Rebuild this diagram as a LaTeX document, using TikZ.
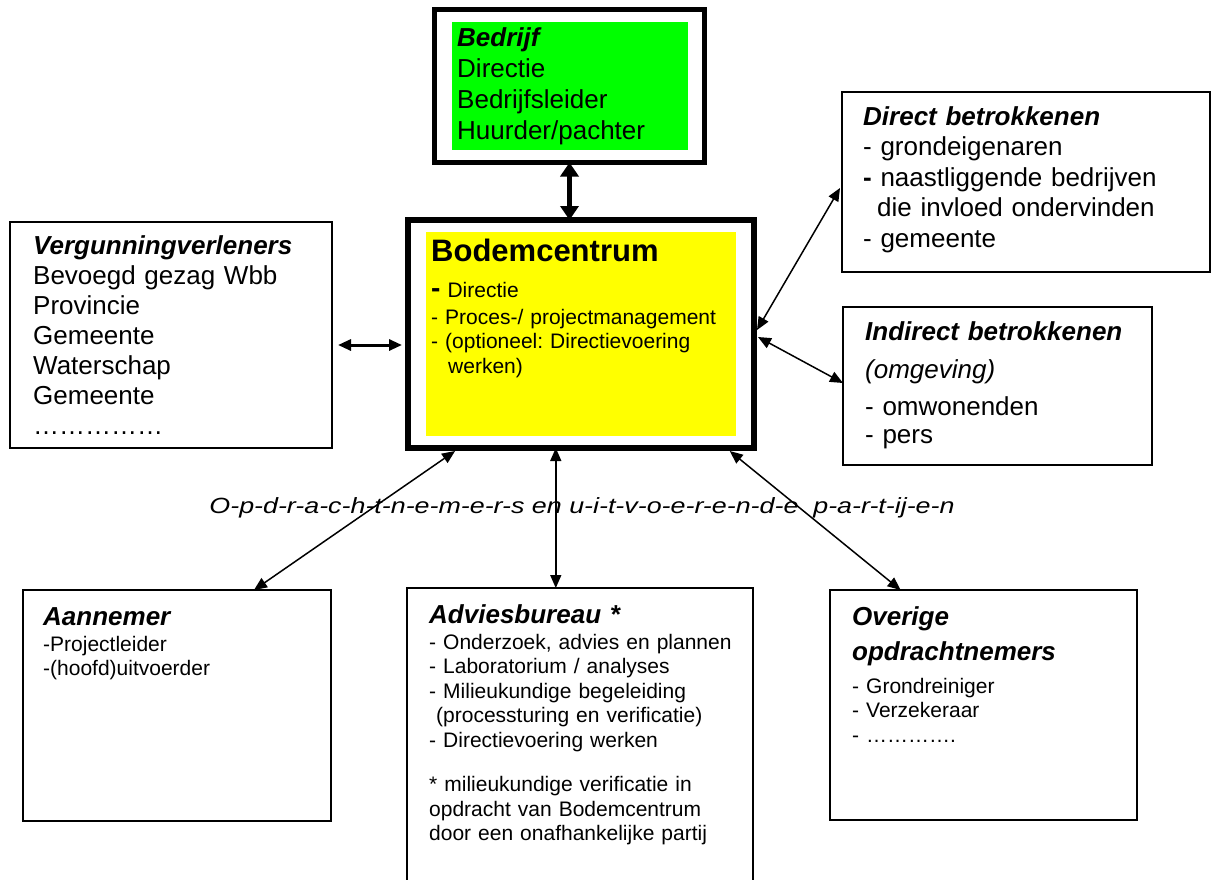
\documentclass[tikz,border=0pt]{standalone}
\usepackage{fontspec}
\setmainfont{Liberation Sans}
\usetikzlibrary{arrows.meta,calc}
\definecolor{BedrijfClr}{RGB}{0,255,0}
\definecolor{CentrumClr}{RGB}{255,255,0}
\frenchspacing

\newcommand{\kop}[1]{\textbf{\textit{#1}}}

\begin{document}
\begin{tikzpicture}[x=1pt,y=-1pt,
  kader/.style={draw,line width=1.6pt,inner sep=0pt,outer sep=0pt,anchor=north west},
  dikkader/.style={kader,line width=5.5pt},
  vlak/.style={inner sep=0pt,outer sep=0pt,anchor=north west},
  tekst/.style={anchor=base west,inner sep=0pt,text width=#1,align=left},
  groot/.style={font=\fontsize{26}{30.5}\selectfont},
  klein/.style={font=\fontsize{21}{24.5}\selectfont},
  pijl/.style={{Triangle[length=13pt,width=11pt]}-{Triangle[length=13pt,width=11pt]},line width=1.5pt},
  dikpijl/.style={{Triangle[length=14pt,width=18pt]}-{Triangle[length=14pt,width=18pt]},line width=4.5pt},
]
\useasboundingbox (0,0) rectangle (1212,879);

% centrale kaders
\node[dikkader,minimum width=270pt,minimum height=153pt] (bedrijf) at (434.5,9.5) {};
\node[vlak,fill=BedrijfClr,minimum width=236pt,minimum height=128pt] (groen) at (452,22) {};
\node[dikkader,line width=6pt,minimum width=346pt,minimum height=228pt] (bodem) at (408,220) {};
\node[vlak,fill=CentrumClr,minimum width=310pt,minimum height=204pt] (geel) at (426,232) {};

% omringende kaders
\node[kader,minimum width=322pt,minimum height=226pt] (verg) at (10,222) {};
\node[kader,minimum width=368pt,minimum height=180pt] (direct) at (842,92) {};
\node[kader,minimum width=309pt,minimum height=158pt] (indirect) at (843,307) {};
\node[kader,minimum width=308pt,minimum height=231pt] (aannemer) at (23,590) {};
\node[kader,minimum width=346pt,minimum height=320pt] (advies) at (407,588) {};
\node[kader,minimum width=307pt,minimum height=230pt] (overige) at (830,590) {};

% teksten
\node[tekst=240pt,font=\fontsize{26}{31}\selectfont] (tBedrijf) at (457,46)
  {\kop{Bedrijf}\\Directie\\Bedrijfsleider\\Huurder/pachter};
\node[tekst=300pt,font=\fontsize{31}{31}\bfseries\selectfont] (tBodem) at (431,261) {Bodemcentrum};
\node[tekst=300pt,klein] (tBodemLijst) at (431,297)
  {{\fontsize{28}{28}\bfseries\selectfont -}\hspace{7pt}Directie\\[2.5pt]
   - Proces-/ projectmanagement\\
   - (optioneel: Directievoering\\
   \hspace*{17pt}werken)};
\node[tekst=300pt,font=\fontsize{26}{30}\selectfont] (tVerg) at (33,254)
  {\kop{Vergunningverleners}\\Bevoegd gezag Wbb\\Provincie\\Gemeente\\Waterschap\\Gemeente\\……………};
\node[tekst=340pt,groot] (tDirect) at (863,125)
  {\kop{Direct betrokkenen}\\- grondeigenaren\\\textbf{-} naastliggende bedrijven\\
   \hspace*{14pt}die invloed ondervinden\\- gemeente};
\node[tekst=300pt,font=\fontsize{26}{28}\selectfont] (tIndirect) at (865,340)
  {\kop{Indirect betrokkenen}\\[10pt]\textit{(omgeving)}\\[9pt]- omwonenden\\- pers};
\node[tekst=280pt,groot] (tAannemer) at (43,625) {\kop{Aannemer}};
\node[tekst=280pt,klein] (tAannemerLijst) at (43,651) {-Projectleider\\-(hoofd)uitvoerder};
\node[tekst=320pt,groot] (tAdvies) at (429,623) {\kop{Adviesbureau *}};
\node[tekst=320pt,klein] (tAdviesLijst) at (429,649)
  {- Onderzoek, advies en plannen\\- Laboratorium / analyses\\- Milieukundige begeleiding\\
   \hspace*{7pt}(processturing en verificatie)\\- Directievoering werken\\[20pt]
   * milieukundige verificatie in\\opdracht van Bodemcentrum\\door een onafhankelijke partij};
\node[tekst=280pt,font=\fontsize{26}{35}\selectfont] (tOverige) at (852,625)
  {\kop{Overige}\\\kop{opdrachtnemers}};
\node[tekst=280pt,klein] (tOverigeLijst) at (852,693) {- Grondreiniger\\- Verzekeraar\\- ………….};
\node[anchor=base,inner sep=0pt,font=\fontsize{22}{24}\itshape\addfontfeature{FakeStretch=1.22}\selectfont] (partijen) at (582,513)
  {O-p-d-r-a-c-h-t-n-e-m-e-r-s en u-i-t-v-o-e-r-e-n-d-e\ \ p-a-r-t-ij-e-n};

% verbindingen
\coordinate (bAan) at ($(bodem.south west)!0.136!(bodem.south east)+(0,3)$);
\coordinate (bOv) at ($(bodem.south west)!0.93!(bodem.south east)+(0,3)$);
\coordinate (aTop) at ($(advies.north west)!0.43!(advies.north east)$);
\draw[dikpijl] (bedrijf.south) -- (bedrijf.south |- bodem.north);
\draw[pijl,line width=3pt] ($(verg.east)+(6,10)$) -- ($(bodem.west)+(-6,11)$);
\draw[pijl] ($(bodem.east)+(3,-4)$) -- ($(direct.west)+(-2,6)$);
\draw[pijl] ($(bodem.east)+(4,3)$) -- ($(indirect.west)+(0,-3)$);
\draw[pijl] (bAan) -- ($(aannemer.north)!0.5!(aannemer.north east)$);
\draw[pijl] (aTop) -- (aTop |- bodem.south);
\draw[pijl] (bOv) -- ($(overige.north west)!0.23!(overige.north east)$);

\end{tikzpicture}
\end{document}
